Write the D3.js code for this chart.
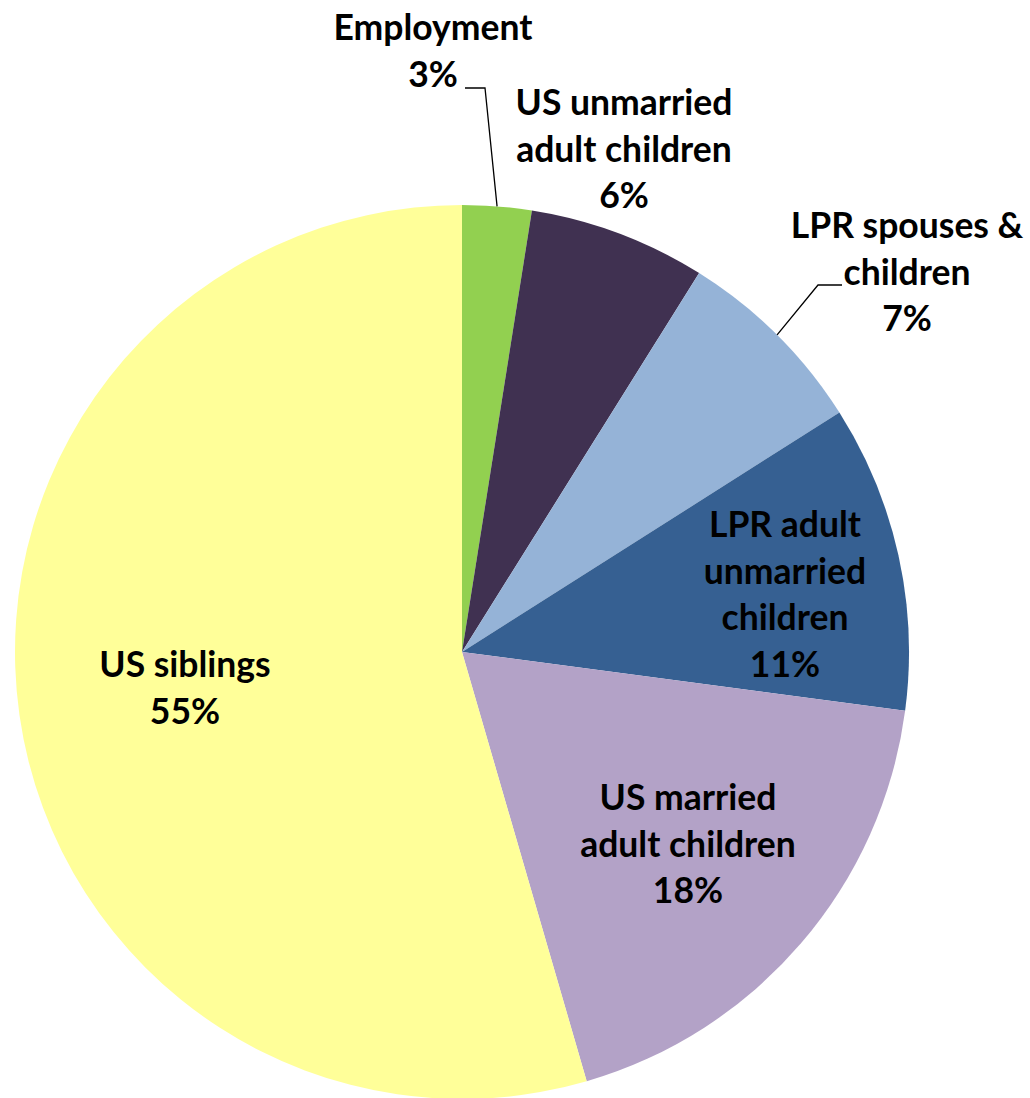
<!DOCTYPE html>
<html>
<head>
<meta charset="utf-8">
<script src="https://cdn.jsdelivr.net/npm/d3@7"></script>
<style>
  html, body { margin: 0; padding: 0; background: #fff; }
  svg text { font-family: Lato, "Open Sans", sans-serif; font-weight: 700; fill: #000; }
</style>
</head>
<body>
<svg id="chart" width="1030" height="1098"></svg>
<script>
// categories clockwise from 12 o'clock
const categories = [
    'Employment',
    'US unmarried adult children',
    'LPR spouses & children',
    'LPR adult unmarried children',
    'US married adult children',
    'US siblings'
];
const shares = [2.5, 6.4, 7.1, 11.1, 18.4, 54.5];
const labelLines = [
    ['Employment'],
    ['US unmarried', 'adult children'],
    ['LPR spouses &', 'children'],
    ['LPR adult', 'unmarried', 'children'],
    ['US married', 'adult children'],
    ['US siblings']
];
const colors = ['#92d050', '#403151', '#95b3d7', '#366092', '#b3a2c7', '#ffff99'];

const cx = 462, cy = 652, radius = 447;
const fontSize = 35.5, lineH = 46.5;

// where each label block sits (x centre, baseline of first line)
const labelPos = [
    [433, 40],
    [624, 115],
    [907, 238],
    [785, 537],
    [688, 810],
    [185, 677]
];

const svg = d3.select('#chart');

const data = categories.map((c, i) => ({
    name: c,
    value: shares[i],
    color: colors[i],
    lines: labelLines[i].concat([Math.round(shares[i]) + '%']),
    pos: labelPos[i]
}));

const pie = d3.pie()
    .value(d => d.value)
    .sort(null);

const arc = d3.arc()
    .innerRadius(0)
    .outerRadius(radius);

const g = svg.append('g')
    .attr('transform', `translate(${cx},${cy})`);

const arcs = pie(data);

g.selectAll('path')
    .data(arcs)
    .join('path')
    .attr('d', arc)
    .attr('fill', d => d.data.color);

// leader lines for the two outside labels
const leaders = [
    { i: 0, pts: [[465, 88], [485, 88]] },
    { i: 2, pts: [[842, 285], [818, 285]] }
];
leaders.forEach(l => {
    const a = arcs[l.i];
    const mid = (a.startAngle + a.endAngle) / 2;
    const edge = [cx + radius * Math.sin(mid), cy - radius * Math.cos(mid)];
    svg.append('path')
        .attr('d', d3.line()(l.pts.concat([edge])))
        .attr('fill', 'none')
        .attr('stroke', '#000')
        .attr('stroke-width', 1.3);
});

const labels = svg.append('g')
    .selectAll('text')
    .data(data)
    .join('text')
    .attr('text-anchor', 'middle')
    .attr('font-size', fontSize)
    .attr('x', d => d.pos[0])
    .attr('y', d => d.pos[1]);

labels.selectAll('tspan')
    .data(d => d.lines.map((t, k) => ({ t, k, x: d.pos[0] })))
    .join('tspan')
    .attr('x', d => d.x)
    .attr('dy', d => d.k === 0 ? 0 : lineH)
    .text(d => d.t);
</script>
</body>
</html>
